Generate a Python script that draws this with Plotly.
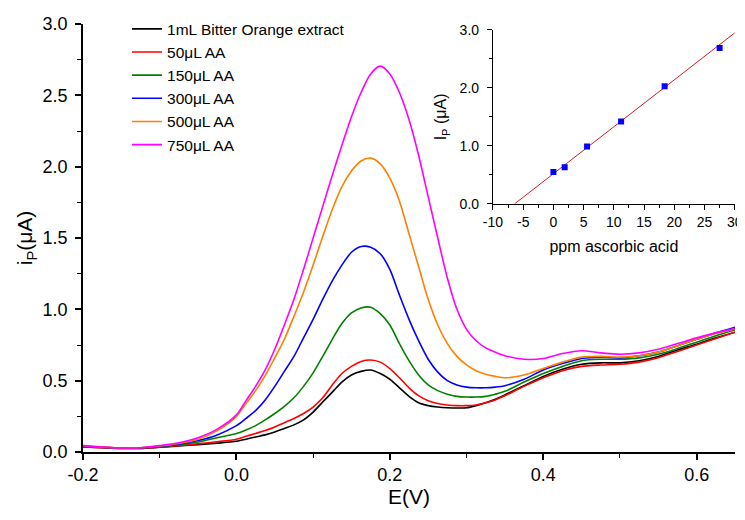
import plotly.graph_objects as go

# ---- main voltammogram data ----
E = [-0.2, -0.175, -0.15, -0.125, -0.1, -0.075, -0.05, -0.025,
     0.0, 0.0125, 0.025, 0.0375, 0.05, 0.0625, 0.075, 0.0875, 0.1, 0.1125, 0.125, 0.1375,
     0.15, 0.1625, 0.175, 0.1875, 0.2, 0.2125, 0.225, 0.2375, 0.25, 0.2625, 0.275, 0.2875,
     0.3, 0.3125, 0.325, 0.3375, 0.35,
     0.375, 0.4, 0.425, 0.45, 0.475, 0.5, 0.525, 0.55, 0.575, 0.6, 0.625, 0.65]

i_extract = [0.035, 0.03, 0.025, 0.025, 0.033, 0.042, 0.052, 0.062,
             0.075, 0.09, 0.105, 0.12, 0.14, 0.165, 0.19, 0.225, 0.28, 0.35, 0.42, 0.49,
             0.54, 0.565, 0.575, 0.55, 0.51, 0.45, 0.39, 0.345, 0.325, 0.315, 0.31, 0.308,
             0.31, 0.325, 0.345, 0.37, 0.40,
             0.465, 0.53, 0.58, 0.615, 0.625, 0.625, 0.64, 0.67, 0.715, 0.755, 0.80, 0.84]
i_50 = [0.035, 0.03, 0.025, 0.025, 0.035, 0.045, 0.058, 0.072,
        0.09, 0.11, 0.13, 0.15, 0.175, 0.205, 0.235, 0.27, 0.315, 0.38, 0.47, 0.55,
        0.60, 0.635, 0.645, 0.63, 0.585, 0.52, 0.45, 0.395, 0.36, 0.34, 0.33, 0.325,
        0.325, 0.33, 0.345, 0.365, 0.395,
        0.46, 0.52, 0.57, 0.60, 0.61, 0.615, 0.63, 0.66, 0.705, 0.75, 0.795, 0.84]
i_150 = [0.04, 0.033, 0.027, 0.027, 0.038, 0.05, 0.07, 0.10,
         0.13, 0.155, 0.185, 0.225, 0.27, 0.32, 0.38, 0.46, 0.555, 0.67, 0.79, 0.90,
         0.975, 1.01, 1.015, 0.97, 0.89, 0.76, 0.64, 0.54, 0.47, 0.43, 0.405, 0.39,
         0.385, 0.385, 0.39, 0.405, 0.425,
         0.49, 0.55, 0.60, 0.64, 0.65, 0.65, 0.66, 0.685, 0.725, 0.77, 0.815, 0.855]
i_300 = [0.04, 0.033, 0.027, 0.028, 0.04, 0.055, 0.08, 0.12,
         0.185, 0.235, 0.29, 0.365, 0.46, 0.565, 0.67, 0.80, 0.93, 1.07, 1.20, 1.31,
         1.40, 1.44, 1.435, 1.39, 1.28, 1.10, 0.93, 0.78, 0.65, 0.56, 0.50, 0.47,
         0.455, 0.45, 0.45, 0.455, 0.465,
         0.51, 0.575, 0.62, 0.655, 0.665, 0.66, 0.675, 0.70, 0.745, 0.79, 0.835, 0.875]
i_500 = [0.045, 0.035, 0.028, 0.03, 0.042, 0.06, 0.09, 0.15,
         0.25, 0.34, 0.43, 0.535, 0.66, 0.79, 0.95, 1.12, 1.31, 1.51, 1.70, 1.86,
         1.97, 2.04, 2.06, 2.02, 1.92, 1.76, 1.53, 1.30, 1.07, 0.89, 0.76, 0.67,
         0.61, 0.57, 0.545, 0.53, 0.52,
         0.54, 0.585, 0.63, 0.665, 0.67, 0.665, 0.675, 0.70, 0.745, 0.79, 0.83, 0.865]
i_750 = [0.045, 0.035, 0.028, 0.03, 0.045, 0.065, 0.10, 0.16,
         0.26, 0.36, 0.46, 0.575, 0.72, 0.89, 1.07, 1.28, 1.50, 1.72, 1.94, 2.15,
         2.35, 2.52, 2.65, 2.705, 2.65, 2.52, 2.33, 2.08, 1.79, 1.50, 1.22, 1.00,
         0.86, 0.78, 0.73, 0.70, 0.675,
         0.65, 0.655, 0.69, 0.71, 0.695, 0.685, 0.695, 0.72, 0.76, 0.80, 0.835, 0.865]

series_names = ["1mL Bitter Orange extract", "50\u03bcL AA", "150\u03bcL AA",
                "300\u03bcL AA", "500\u03bcL AA", "750\u03bcL AA"]
series_values = [i_extract, i_50, i_150, i_300, i_500, i_750]
series_colors = ["#000000", "#FF0000", "#008000", "#0000FF", "#FF8000", "#FF00FF"]

# ---- inset calibration data ----
ppm = [0.0, 1.86, 5.57, 11.2, 18.4, 27.5]
ip_peak = [0.55, 0.63, 0.99, 1.42, 2.03, 2.69]
fit_x = [-6.4, 30.0]
fit_y = [0.0, 2.95]

main_xticks = [-0.2, 0.0, 0.2, 0.4, 0.6]
main_xticklabels = ["-0.2", "0.0", "0.2", "0.4", "0.6"]
main_yticks = [0, 0.5, 1.0, 1.5, 2.0, 2.5, 3.0]
main_yticklabels = ["0.0", "0.5", "1.0", "1.5", "2.0", "2.5", "3.0"]
inset_xticks = [-10, -5, 0, 5, 10, 15, 20, 25, 30]
inset_xticklabels = ["-10", "-5", "0", "5", "10", "15", "20", "25", "30"]
inset_yticks = [0, 1, 2, 3]
inset_yticklabels = ["0.0", "1.0", "2.0", "3.0"]

FONT = "Liberation Sans, Arial, sans-serif"

fig = go.Figure()
for name, vals, col in zip(series_names, series_values, series_colors):
    fig.add_trace(go.Scatter(x=E, y=vals, mode="lines", name=name,
                             line=dict(color=col, width=1.6, shape="spline", smoothing=0.8),
                             xaxis="x", yaxis="y"))

fig.add_trace(go.Scatter(x=fit_x, y=fit_y, mode="lines", showlegend=False,
                         line=dict(color="#D02020", width=1), xaxis="x2", yaxis="y2"))
fig.add_trace(go.Scatter(x=ppm, y=ip_peak, mode="markers", showlegend=False,
                         marker=dict(symbol="square", size=6, color="#0000FF"),
                         xaxis="x2", yaxis="y2"))

axis_common = dict(showgrid=False, zeroline=False, showline=True, linecolor="black",
                   ticks="outside", tickcolor="black", mirror=False, automargin=False,
                   ticklabeloverflow="allow")

# the page body adds an 8px offset, so the figure is drawn 8px smaller
fig.update_layout(
    width=737, height=512,
    margin=dict(l=75, r=5, t=15, b=68),
    paper_bgcolor="white", plot_bgcolor="white",
    font=dict(family=FONT, color="black"),
    xaxis=dict(**axis_common, domain=[0, 0.9924], range=[-0.2, 0.65],
               tickmode="array", tickvals=main_xticks, ticktext=main_xticklabels,
               linewidth=1.5, ticklen=6, tickwidth=1.5,
               minor=dict(ticks="outside", tickvals=[-0.1, 0.1, 0.3, 0.5], ticklen=4,
                          tickcolor="black", tickwidth=1.2),
               tickfont=dict(size=18),
               title=dict(text="E(V)", font=dict(size=21), standoff=0)),
    yaxis=dict(**axis_common, domain=[0, 1], range=[0, 3.0],
               tickmode="array", tickvals=main_yticks, ticktext=main_yticklabels,
               linewidth=1.5, ticklen=6, tickwidth=1.5, ticklabelstandoff=4,
               minor=dict(ticks="outside", tickvals=[0.25, 0.75, 1.25, 1.75, 2.25, 2.75],
                          ticklen=4, tickcolor="black", tickwidth=1.2),
               tickfont=dict(size=18),
               title=dict(text="i<sub>P</sub>(\u03bcA)", font=dict(size=21), standoff=4)),
    xaxis2=dict(**axis_common, domain=[0.624, 0.992], range=[-10, 30], anchor="y2",
                tickmode="array", tickvals=inset_xticks, ticktext=inset_xticklabels,
                linewidth=1.2, ticklen=5, tickwidth=1.2,
                minor=dict(ticks="outside", dtick=2.5, tick0=-10, ticklen=3,
                           tickcolor="black", tickwidth=1),
                tickfont=dict(size=14),
                title=dict(text="ppm ascorbic acid", font=dict(size=16), standoff=12)),
    yaxis2=dict(**axis_common, domain=[0.580, 0.986], range=[0, 3.0], anchor="x2",
                tickmode="array", tickvals=inset_yticks, ticktext=inset_yticklabels,
                linewidth=1.2, ticklen=5, tickwidth=1.2, ticklabelstandoff=5,
                minor=dict(ticks="outside", tickvals=[0.5, 1.5, 2.5], ticklen=3,
                           tickcolor="black", tickwidth=1),
                tickfont=dict(size=14),
                title=dict(text="I<sub>P</sub> (\u03bcA)", font=dict(size=16), standoff=8)),
    legend=dict(x=0.067, y=1.025, xanchor="left", yanchor="top",
                bgcolor="rgba(0,0,0,0)", font=dict(size=15.5), tracegroupgap=0,
                itemwidth=30),
    showlegend=True,
)

fig.write_html("out.html")
